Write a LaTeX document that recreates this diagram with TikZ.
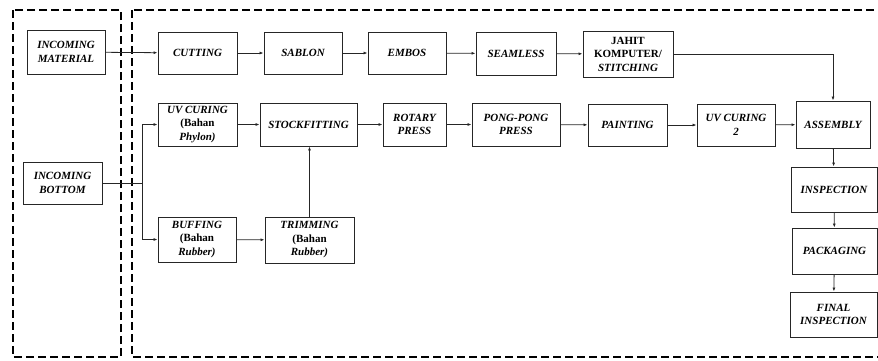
\documentclass[tikz,border=0pt]{standalone}
\usepackage{fontspec}
\setmainfont{Liberation Serif}
\usetikzlibrary{arrows.meta}
\tikzset{
  proc/.style={draw=black!85, line width=0.9pt, inner sep=1pt, align=center,
    font=\fontsize{11}{13.5}\selectfont\bfseries\itshape, fill=white},
  flow/.style={draw=black!85, line width=0.8pt, -{Latex[length=4pt,width=3pt]}},
  grp/.style={draw=black, line width=1.6pt, dash pattern=on 8pt off 4pt},
}
\begin{document}
\begin{tikzpicture}[x=1pt,y=-1pt]
\useasboundingbox (0,0) rectangle (878,360);
\begin{scope}
\clip (0,0) rectangle (878,360);
\draw[grp] (13,10) rectangle (121,357);
\draw[grp] (132,10) rectangle (900,357);
\end{scope}
% nodes: centre, width, height
\node[proc, minimum width=78pt, minimum height=44pt] (im) at (66,52) {INCOMING\\MATERIAL};
\node[proc, minimum width=79pt, minimum height=42pt] (cut) at (197.5,53) {CUTTING};
\node[proc, minimum width=78pt, minimum height=42pt] (sab) at (303,53) {SABLON};
\node[proc, minimum width=78pt, minimum height=42pt] (emb) at (407,53) {EMBOS};
\node[proc, minimum width=80pt, minimum height=43pt] (sea) at (516,53.5) {SEAMLESS};
\node[proc, minimum width=90pt, minimum height=46pt] (jah) at (628,54) {{\upshape JAHIT}\\{\upshape KOMPUTER/}\\STITCHING};
\node[proc, minimum width=79pt, minimum height=43pt] (uv1) at (197.5,124.5) {UV CURING\\{\upshape(Bahan}\\Phylon)};
\node[proc, minimum width=97pt, minimum height=43pt] (stf) at (308.5,124.5) {STOCKFITTING};
\node[proc, minimum width=63pt, minimum height=43pt] (rot) at (414.5,124.5) {ROTARY\\PRESS};
\node[proc, minimum width=88pt, minimum height=43pt] (pong) at (516,124.5) {PONG-PONG\\PRESS};
\node[proc, minimum width=79pt, minimum height=42pt] (pnt) at (627.5,125) {PAINTING};
\node[proc, minimum width=78pt, minimum height=42pt] (uv2) at (736,125) {UV CURING\\2};
\node[proc, minimum width=74pt, minimum height=47pt] (asm) at (833,124.5) {ASSEMBLY};
\node[proc, minimum width=79pt, minimum height=42pt] (ib) at (62.5,183) {INCOMING\\BOTTOM};
\node[proc, minimum width=78pt, minimum height=45pt] (buf) at (197,239.5) {BUFFING\\{\upshape(Bahan}\\Rubber)};
\node[proc, minimum width=89pt, minimum height=46pt] (trm) at (309.5,240) {TRIMMING\\{\upshape(Bahan}\\Rubber)};
\node[proc, minimum width=86pt, minimum height=45pt] (ins) at (834,189.5) {INSPECTION};
\node[proc, minimum width=85pt, minimum height=46pt] (pkg) at (834.5,251) {PACKAGING};
\node[proc, minimum width=87pt, minimum height=45pt] (fin) at (833.5,314.5) {FINAL\\INSPECTION};
% connectors
\draw[flow] (im) -- (cut);
\draw[flow] (cut) -- (sab);
\draw[flow] (sab) -- (emb);
\draw[flow] (emb) -- (sea);
\draw[flow] (sea) -- (jah);
\draw[flow] (jah.east) -| (asm.north);
\coordinate (br) at (142,183);
\draw[draw=black!85, line width=0.8pt] (ib.east) -- (br);
\draw[flow] (br) |- (uv1.west);
\draw[flow] (br) |- (buf.west);
\draw[flow] (uv1) -- (stf);
\draw[flow] (stf) -- (rot);
\draw[flow] (rot) -- (pong);
\draw[flow] (pong) -- (pnt);
\draw[flow] (pnt) -- (uv2);
\draw[flow] (uv2) -- (asm);
\draw[flow] (buf) -- (trm);
\draw[flow] (trm.north) -- (stf.south -| trm.north);
\draw[flow] (asm) -- (ins);
\draw[flow] (ins) -- (pkg);
\draw[flow] (pkg) -- (fin);
\end{tikzpicture}
\end{document}
